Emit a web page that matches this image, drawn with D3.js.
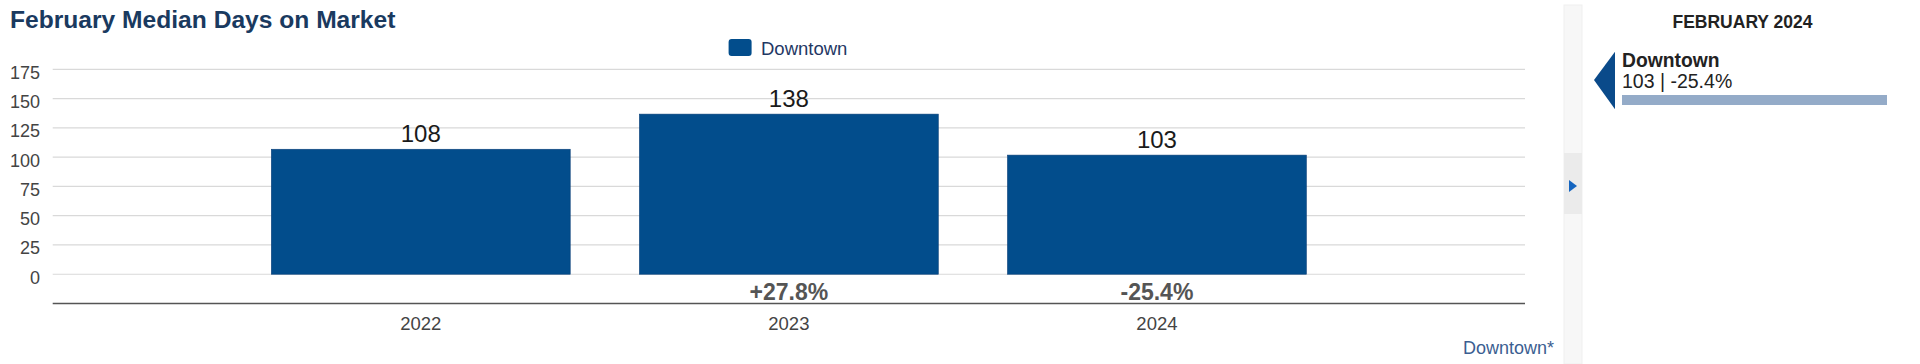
<!DOCTYPE html>
<html>
<head>
<meta charset="utf-8">
<script src="https://cdn.jsdelivr.net/npm/d3@7"></script>
<style>
  body { margin: 0; background: #fff; }
  svg { display: block; font-family: "Liberation Sans", Arial, sans-serif; }
</style>
</head>
<body>
<script>
// chart data
var years = ["2022", "2023", "2024"];
var daysOnMarket = [108, 138, 103];
var yTicks = [0, 25, 50, 75, 100, 125, 150, 175];
var seriesName = "Downtown";
var monthLabel = "FEBRUARY 2024";

var barColor = "#024d8c";

window.onload = drawChart;

function drawChart(){
    var width = 1920, height = 364;

    var svg = d3.select("body")
        .append("svg")
        .attr("width", width)
        .attr("height", height);

    // title
    svg.append("text")
        .attr("x", 10)
        .attr("y", 27.5)
        .attr("font-size", 24.6)
        .attr("font-weight", "bold")
        .attr("fill", "#1a3a5f")
        .text("February Median Days on Market");

    // scales - one empty slot at each end, like the original
    var x = d3.scaleLinear()
        .domain([0, years.length + 1])
        .range([52.7, 1525]);
    var step = x(1) - x(0);
    var barW = step * 0.812;

    var y = d3.scaleLinear()
        .domain([-25, 175])
        .range([303.5, 69.3]);

    // gridlines
    svg.append("g").selectAll("line")
        .data(yTicks)
        .enter()
        .append("line")
        .attr("x1", x.range()[0])
        .attr("x2", x.range()[1])
        .attr("y1", d => y(d))
        .attr("y2", d => y(d))
        .attr("stroke", "#d9d9d9")
        .attr("stroke-width", 1.2);

    // y labels
    svg.append("g").selectAll("text")
        .data(yTicks)
        .enter()
        .append("text")
        .attr("x", 40)
        .attr("y", d => y(d) + 9.5)
        .attr("text-anchor", "end")
        .attr("font-size", 18)
        .attr("fill", "#444")
        .text(d => d);

    // x axis line
    svg.append("line")
        .attr("x1", x.range()[0])
        .attr("x2", x.range()[1])
        .attr("y1", y(-25))
        .attr("y2", y(-25))
        .attr("stroke", "#555")
        .attr("stroke-width", 1.5);

    // bars
    svg.append("g").selectAll("rect")
        .data(daysOnMarket)
        .enter()
        .append("rect")
        .attr("x", (d, i) => x(i + 1) - barW / 2)
        .attr("width", barW)
        .attr("y", d => y(d) + 1.5)
        .attr("height", d => y(0) - y(d) - 1.5)
        .attr("fill", barColor)
        .attr("stroke", "#0b3f78")
        .attr("stroke-width", 0.6);

    // value labels
    svg.append("g").selectAll("text")
        .data(daysOnMarket)
        .enter()
        .append("text")
        .attr("x", (d, i) => x(i + 1))
        .attr("y", d => y(d) - 5.5)
        .attr("text-anchor", "middle")
        .attr("font-size", 24)
        .attr("fill", "#1a1a1a")
        .text(d => d);

    // year-over-year change
    var changes = daysOnMarket.map(function(d, i){
        if (i == 0) return "";
        var p = (d - daysOnMarket[i - 1]) / daysOnMarket[i - 1] * 100;
        return (p > 0 ? "+" : "") + p.toFixed(1) + "%";
    });
    svg.append("g").selectAll("text")
        .data(changes)
        .enter()
        .append("text")
        .attr("x", (d, i) => x(i + 1))
        .attr("y", 299.5)
        .attr("text-anchor", "middle")
        .attr("font-size", 23)
        .attr("font-weight", "bold")
        .attr("fill", "#555")
        .text(d => d);

    // year labels
    svg.append("g").selectAll("text")
        .data(years)
        .enter()
        .append("text")
        .attr("x", (d, i) => x(i + 1))
        .attr("y", 329.5)
        .attr("text-anchor", "middle")
        .attr("font-size", 18.5)
        .attr("fill", "#444")
        .text(d => d);

    // legend
    svg.append("rect")
        .attr("x", 728.6)
        .attr("y", 39)
        .attr("width", 23)
        .attr("height", 17)
        .attr("rx", 3)
        .attr("fill", barColor);
    svg.append("text")
        .attr("x", 761)
        .attr("y", 55)
        .attr("font-size", 18.5)
        .attr("fill", "#1f3864")
        .text(seriesName);

    // footnote
    svg.append("text")
        .attr("x", 1554)
        .attr("y", 353.5)
        .attr("text-anchor", "end")
        .attr("font-size", 18)
        .attr("fill", "#3b5e91")
        .text(seriesName + "*");

    // side strip
    svg.append("rect")
        .attr("x", 1564).attr("y", 5)
        .attr("width", 18).attr("height", height - 5)
        .attr("fill", "#f7f7f7")
        .attr("stroke", "#efefef");
    svg.append("rect")
        .attr("x", 1564).attr("y", 153)
        .attr("width", 18).attr("height", 61)
        .attr("fill", "#ebebeb");
    svg.append("path")
        .attr("d", "M1569,180L1577,186L1569,192Z")
        .attr("fill", "#1565c0");

    // right panel
    var last = daysOnMarket.length - 1;
    svg.append("text")
        .attr("x", 1742.5)
        .attr("y", 28.3)
        .attr("text-anchor", "middle")
        .attr("font-size", 17.5)
        .attr("font-weight", "bold")
        .attr("fill", "#222")
        .text(monthLabel);
    svg.append("path")
        .attr("d", "M1594,80L1615,51.7L1615,109.3Z")
        .attr("fill", "#0a4a8a");
    svg.append("text")
        .attr("x", 1622)
        .attr("y", 66.7)
        .attr("font-size", 19.3)
        .attr("font-weight", "bold")
        .attr("fill", "#222")
        .text(seriesName);
    svg.append("text")
        .attr("x", 1622)
        .attr("y", 88.3)
        .attr("font-size", 19.5)
        .attr("fill", "#222")
        .text(daysOnMarket[last] + " | " + changes[last]);
    svg.append("rect")
        .attr("x", 1622).attr("y", 95)
        .attr("width", 265).attr("height", 10)
        .attr("fill", "#94abc8");
}
</script>
</body>
</html>
